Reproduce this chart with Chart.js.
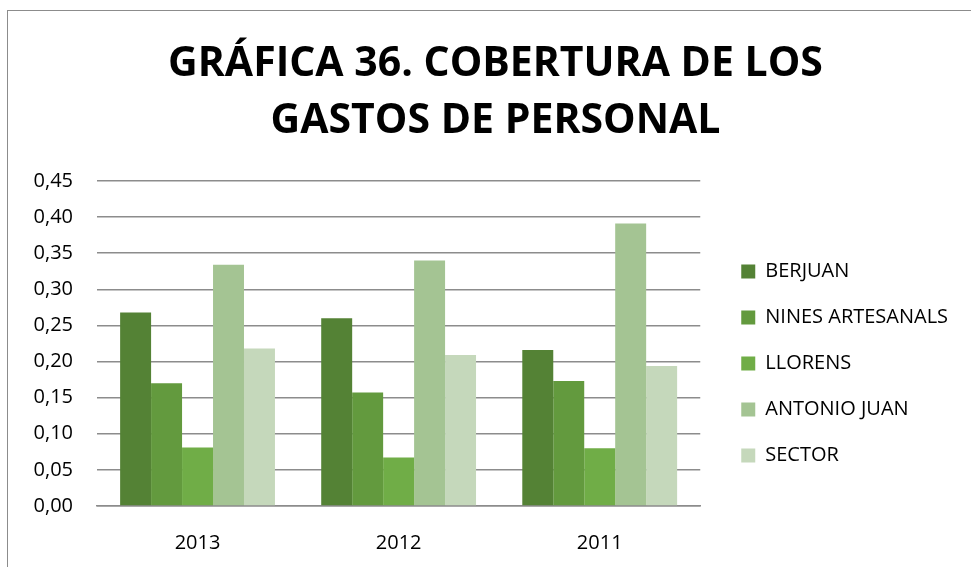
<!DOCTYPE html>
<html>
<head>
<meta charset="utf-8">
<script src="https://cdn.jsdelivr.net/npm/chart.js@4"></script>
<style>
  html, body { margin: 0; padding: 0; background: #fff; overflow: hidden; width: 971px; height: 567px; }
  #frame { position: absolute; left: 7px; top: 10px; width: 1000px; height: 600px; border: 1.5px solid #8c8c8c; box-sizing: border-box; }
  #wrap { position: absolute; left: 0; top: 0; width: 990px; height: 567px; }
</style>
</head>
<body>
<div id="frame"></div>
<div id="wrap"><canvas id="chart" width="990" height="567"></canvas></div>
<script>
const years = ['2013', '2012', '2011'];
const berjuan = [0.268, 0.260, 0.216];
const ninesArtesanals = [0.170, 0.157, 0.173];
const llorens = [0.081, 0.067, 0.080];
const antonioJuan = [0.334, 0.340, 0.391];
const sector = [0.218, 0.209, 0.194];

const seriesNames = ['BERJUAN', 'NINES ARTESANALS', 'LLORENS', 'ANTONIO JUAN', 'SECTOR'];
const seriesData = [berjuan, ninesArtesanals, llorens, antonioJuan, sector];
const seriesColors = ['#548235', '#639a3e', '#70ad47', '#a4c493', '#c5d8bb'];

const font = "'Open Sans', sans-serif";

// move title and legend off their default slots; widen legend box so labels aren't clipped
const boxShift = {
  id: 'boxShift',
  afterLayout(chart) {
    const lg = chart.legend;
    lg.top += 20; lg.bottom += 20;
    lg.left += 15; lg.right = chart.width;
    const tb = chart.titleBlock;
    tb.left += 24; tb.right += 24;
  }
};

new Chart(document.getElementById('chart'), {
  type: 'bar',
  data: {
    labels: years,
    datasets: seriesNames.map((name, i) => ({
      label: name,
      data: seriesData[i],
      backgroundColor: seriesColors[i],
      borderWidth: 0,
      categoryPercentage: 0.77,
      barPercentage: 1.0
    }))
  },
  options: {
    responsive: false,
    animation: false,
    layout: { padding: { left: 14, right: 61, top: 35.5, bottom: 12 } },
    plugins: {
      title: {
        display: true,
        text: ['GRÁFICA 36. COBERTURA DE LOS', 'GASTOS DE PERSONAL'],
        color: '#000',
        font: { family: font, size: 41, weight: 'bold', lineHeight: 1.39 },
        padding: { top: 0, bottom: 31.5 }
      },
      legend: {
        position: 'right',
        fullSize: false,
        labels: {
          color: '#000',
          font: { family: font, size: 20 },
          boxWidth: 14,
          boxHeight: 14,
          padding: 26
        }
      },
      tooltip: { enabled: false }
    },
    scales: {
      x: {
        afterFit: scale => { scale.height = 49; },
        grid: { display: false, drawTicks: false },
        border: { color: '#8c8c8c', width: 1.5 },
        ticks: { color: '#000', font: { family: font, size: 20 }, padding: 25 }
      },
      y: {
        min: 0,
        max: 0.45,
        afterFit: scale => { scale.width = 83; },
        ticks: {
          stepSize: 0.05,
          color: '#000',
          font: { family: font, size: 20 },
          padding: 24,
          callback: v => v.toFixed(2).replace('.', ',')
        },
        grid: { color: '#8c8c8c', lineWidth: 1.5, drawTicks: false },
        border: { display: false }
      }
    }
  },
  plugins: [boxShift]
});
</script>
</body>
</html>
